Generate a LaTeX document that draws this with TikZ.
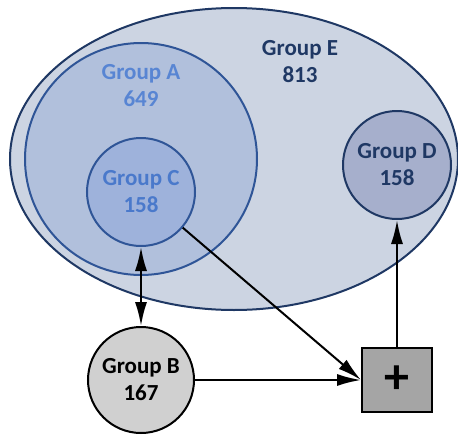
\documentclass[tikz,border=0pt]{standalone}
\usepackage{fontspec}
\setmainfont{Carlito}
\usetikzlibrary{shapes.geometric,arrows.meta}
\definecolor{navy}{HTML}{1F3864}
\definecolor{efill}{HTML}{CCD4E2}
\definecolor{afill}{HTML}{B1C0DC}
\definecolor{cfill}{HTML}{9EB2DB}
\definecolor{dfill}{HTML}{A6AFCC}
\definecolor{aline}{HTML}{2F5597}
\definecolor{atext}{HTML}{5885D3}
\definecolor{ctext}{HTML}{4A79CB}
\definecolor{bfill}{HTML}{D0D0D0}
\definecolor{sqfill}{HTML}{A5A5A5}

\begin{document}
\begin{tikzpicture}[x=1pt,y=-1pt,>={Latex[length=24pt,width=12pt]},
    grp/.style={circle,inner sep=0pt,line width=2pt,align=center,
      font=\fontsize{23}{27}\selectfont\bfseries},
    lbl/.style={align=center,font=\fontsize{23}{27}\selectfont\bfseries},
    conn/.style={draw,line width=2pt}]
        \useasboundingbox (0,0) rectangle (458,434);
        % sets
        \node[ellipse,draw=navy,fill=efill,line width=2pt,inner sep=0pt,
          minimum width=448pt,minimum height=302pt] (E) at (234,159){};
        \node[lbl,text=navy] (Etxt) at (300,62){Group E\\813};
        \node[grp,draw=aline,fill=afill,minimum size=232pt] (A) at (141,159){};
        \node[lbl,text=atext] (Atxt) at (141,86){Group A\\649};
        \node[grp,draw=aline,fill=cfill,text=ctext,minimum size=108pt] (C) at (141,192){Group C\\158};
        \node[grp,draw=navy,fill=dfill,text=navy,minimum size=108pt] (D) at (397,165){Group D\\158};
        \node[grp,draw=black,fill=bfill,minimum size=106pt] (B) at (141,380){Group B\\167};
        \node[draw,line width=2pt,fill=sqfill,minimum width=70pt,minimum height=64pt,
          font=\fontsize{50}{50}\selectfont\bfseries] (sum) at (397,380){+};
        % connectors
        \path[conn,<->] (C) -- (B);
        \path[conn,->] (C) -- (sum.west);
        \path[conn,->] (B) -- (sum.west);
        \path[conn,->] (sum) -- (D);
      \end{tikzpicture}
\end{document}
